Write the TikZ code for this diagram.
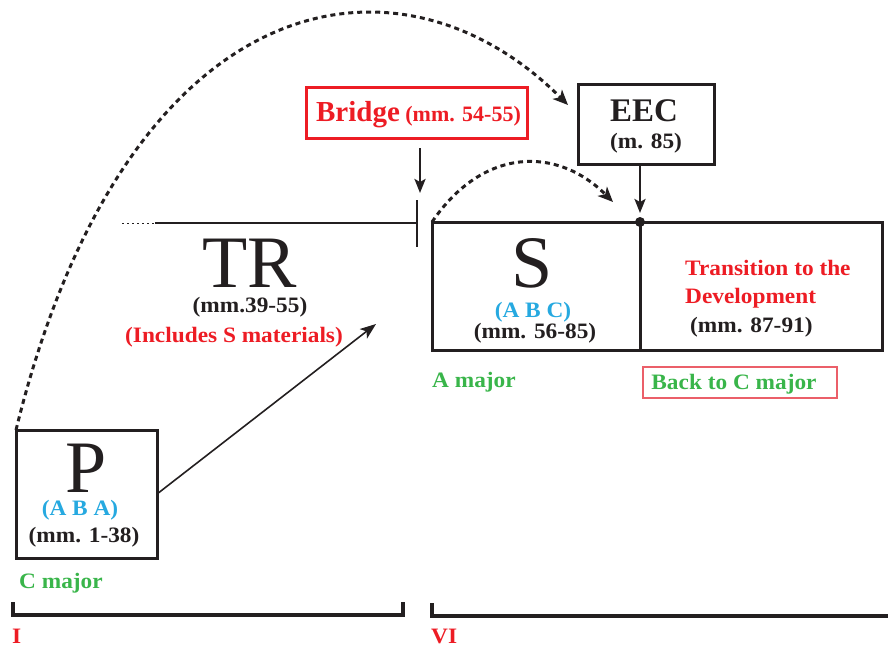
\documentclass[tikz,border=0pt]{standalone}
\usepackage{fontspec}
\setmainfont{Liberation Serif}
\newfontfamily\widefont{Liberation Serif}[FakeStretch=1.06]
\usetikzlibrary{arrows.meta,calc}
\definecolor{ink}{RGB}{35,31,32}
\definecolor{myred}{RGB}{237,28,36}
\definecolor{mycyan}{RGB}{38,169,224}
\definecolor{mygreen}{RGB}{57,181,74}
\definecolor{lightred}{RGB}{235,95,105}
\newcommand\fsz[1]{\fontsize{#1}{#1}\selectfont}
\begin{document}
\begin{tikzpicture}[x=1pt,y=-1pt,
  frame/.style={draw=ink,line width=3pt,inner sep=0pt,outer sep=0pt},
  txt/.style={inner sep=0pt,anchor=base,font=\widefont\bfseries\fsz{22},text=ink},
  big/.style={inner sep=0pt,anchor=base,font=\fsz{74},text=ink},
  arc/.style={draw=ink,line width=3pt,dash pattern=on 5pt off 4pt,-{Stealth[length=15pt,width=13pt,inset=4pt]}},
  down/.style={draw=ink,line width=2.5pt,-{Stealth[length=14pt,width=11pt,inset=3pt]}},
  bracket/.style={draw=ink,line width=4pt}]
\useasboundingbox (0,0) rectangle (888,648);

% boxes
\node[frame,minimum width=141pt,minimum height=128pt] (P) at (86.5,494) {};
\node[frame,minimum width=208pt,minimum height=128pt] (S) at (536,286) {};
\node[frame,minimum width=242pt,minimum height=128pt] (T) at (761,286) {};
\node[frame,minimum width=136pt,minimum height=80pt] (EEC) at (646,124) {};
\node[frame,draw=myred,minimum width=221pt,minimum height=51pt] (bridge) at (416.5,112.5) {};
\node[draw=lightred,line width=1.5pt,inner sep=0pt,minimum width=194pt,minimum height=31pt] (back) at (740,382.5) {};

% P texts
\node[big] (Pl) at (86,492) {P};
\node[txt,text=mycyan] (Pabc) at (80,515) {(A B A)};
\node[txt] (Pmm) at (84,542) {(mm. 1-38)};
\node[txt,text=mygreen,anchor=base west] (cmaj) at (19,588) {C major};

% TR
\node[big] (TR) at (250,287) {TR};
\node[txt] (TRmm) at (250,312) {(mm.39-55)};
\node[txt,text=myred] (TRinc) at (234,342) {(Includes S materials)};
\coordinate (trl) at (155,223);
\coordinate (trr) at (417,223);
\coordinate (trdot) at (122,223);
\draw[ink,line width=1.8pt] (trl) -- (trr);
\draw[ink,line width=1pt,dash pattern=on 2pt off 3pt] (trdot) -- (trl);
\coordinate (ticktop) at (417,200);
\coordinate (tickbot) at (417,247);
\draw[ink,line width=2pt] (ticktop) -- (tickbot);

% S texts
\node[big] (Sl) at (532,287) {S};
\node[txt,text=mycyan] (Sabc) at (533,317) {(A B C)};
\node[txt] (Smm) at (535,338) {(mm. 56-85)};
\node[txt,text=mygreen,anchor=base west] (amaj) at (432,387) {A major};

% transition texts
\node[txt,text=myred,anchor=base west] (T1) at (685,275) {Transition to the};
\node[txt,text=myred,anchor=base west] (T2) at (685,303) {Development};
\node[txt,anchor=base west] (T3) at (690,332) {(mm. 87-91)};
\node[txt,text=mygreen] (backtxt) at (734,389) {Back to C major};

% EEC
\node[txt,font=\bfseries\fsz{33}] (EECl) at (644,121) {EEC};
\node[txt] (EECmm) at (646,148) {(m. 85)};
\coordinate (dot) at (S.north east);
\fill[ink] (dot) circle (5pt);
\draw[down] (EEC.south -| dot) -- ($(dot)+(0,-9)$);

% Bridge
\node[txt,text=myred,font=\bfseries\fsz{22}] (bridgetxt) at (418.5,121) {{\fsz{29}Bridge} (mm. 54-55)};
\coordinate (brtop) at (420,148);
\coordinate (brtip) at (420,193);
\draw[down] (brtop) -- (brtip);

% arcs
\coordinate (eecin) at (568,105);
\draw[arc] (P.north west) .. controls (126,-18) and (398,-65) .. (eecin);
\coordinate (sin) at (613,202);
\draw[arc] (S.north west) .. controls (483,147) and (557,146) .. (sin);

% P to TR arrow
\coordinate (trtarget) at (376,324);
\draw[ink,line width=1.6pt,-{Stealth[length=16pt,width=12pt,inset=4pt]}] (P.east) -- (trtarget);

% brackets
\draw[bracket] (13,602) -- (13,615) -- (403,615) -- (403,602);
\draw[bracket] (432,603) -- (432,616) -- (892,616);
\node[txt,text=myred,anchor=base west] (one) at (12,643) {I};
\node[txt,text=myred,anchor=base west] (six) at (431,643) {VI};
\end{tikzpicture}
\end{document}
